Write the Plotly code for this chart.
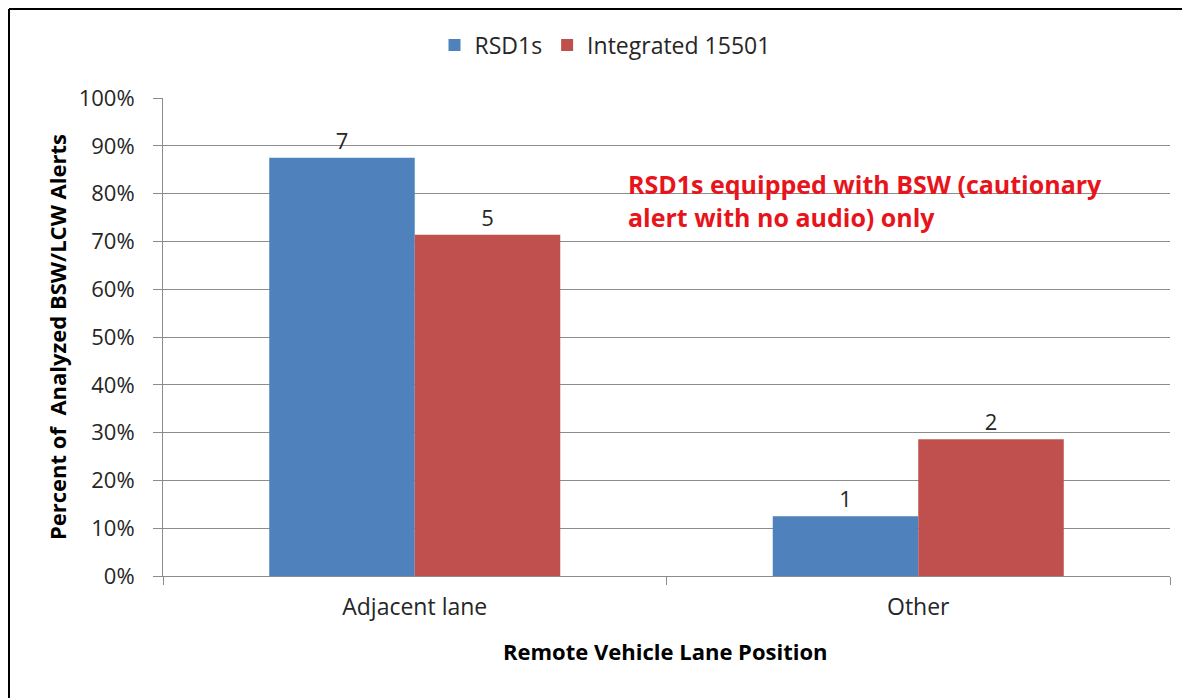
import plotly.graph_objects as go

# ── data ─────────────────────────────────────────────────────
categories = ["Adjacent lane", "Other"]
rsd1s_pct = [0.875, 0.125]          # 7 of 8, 1 of 8
rsd1s_cnt = ["7", "1"]
integ_pct = [0.714, 0.286]          # 5 of 7, 2 of 7
integ_cnt = ["5", "2"]

y_ticks = [i / 10 for i in range(11)]

COLORS = {"blue": "#4F81BD", "red": "#C0504D", "grid": "#8c8c8c", "text": "#262626"}
FONT = "Open Sans, Liberation Sans, sans-serif"

# figure sits 8px in from the page corner (body margin)
W, H = 1182, 690
ML, MT = 155, 90
PW, PH = 1007, 478
MR, MB = W - ML - PW, H - MT - PH


def px(X):   # page x -> paper x
    return (X - 8 - ML) / PW


def py(Y):   # page y -> paper y
    return 1 - (Y - 8 - MT) / PH


fig = go.Figure()
fig.add_trace(go.Bar(
    x=categories, y=rsd1s_pct, name="RSD1s",
    marker=dict(color=COLORS["blue"], line=dict(width=0)),
    text=rsd1s_cnt, textposition="outside", cliponaxis=False,
    textfont=dict(size=22, color=COLORS["text"], family=FONT),
))
fig.add_trace(go.Bar(
    x=categories, y=integ_pct, name="Integrated 15501",
    marker=dict(color=COLORS["red"], line=dict(width=0)),
    text=integ_cnt, textposition="outside", cliponaxis=False,
    textfont=dict(size=22, color=COLORS["text"], family=FONT),
))

fig.add_annotation(
    text="RSD1s equipped with BSW (cautionary<br>alert with no audio) only",
    xref="paper", yref="paper", x=px(626), y=py(165),
    xanchor="left", yanchor="top", align="left", showarrow=False,
    font=dict(size=25, color="#e8141c", family=FONT, weight="bold"),
)

# axis titles placed as annotations for exact position
fig.add_annotation(
    text="Percent of  Analyzed BSW/LCW Alerts",
    xref="paper", yref="paper", x=px(57), y=py(337),
    xanchor="center", yanchor="middle", textangle=-90, showarrow=False,
    font=dict(size=22, color="black", family=FONT, weight="bold"),
)
fig.add_annotation(
    text="Remote Vehicle Lane Position",
    xref="paper", yref="paper", x=px(665), y=py(651),
    xanchor="center", yanchor="middle", showarrow=False,
    font=dict(size=22, color="black", family=FONT, weight="bold"),
)

# frame lines visible on left and top of the picture
fig.add_shape(type="line", xref="paper", yref="paper",
              x0=px(9), x1=px(9), y0=py(9), y1=py(H + 8),
              line=dict(color="black", width=2))
fig.add_shape(type="line", xref="paper", yref="paper",
              x0=px(9), x1=px(W + 8), y0=py(9), y1=py(9),
              line=dict(color="black", width=2))

fig.update_layout(
    width=W, height=H,
    paper_bgcolor="white", plot_bgcolor="white",
    margin=dict(l=ML, r=MR, t=MT, b=MB),
    font=dict(family=FONT, color=COLORS["text"], size=20),
    barmode="group", bargap=0.422, bargroupgap=0,
    showlegend=True,
    legend=dict(orientation="h", x=px(605), xanchor="center",
                y=py(45), yanchor="middle",
                font=dict(size=23, color=COLORS["text"]),
                itemwidth=30, traceorder="normal"),
    xaxis=dict(
        showline=True, linecolor=COLORS["grid"], linewidth=1,
        ticks="outside", tickson="boundaries", ticklen=8, tickcolor=COLORS["grid"],
        tickfont=dict(size=23, color=COLORS["text"]),
        ticklabelstandoff=10,
    ),
    yaxis=dict(
        range=[0, 1], tickvals=y_ticks, tickformat=".0%",
        showgrid=True, gridcolor=COLORS["grid"], gridwidth=1,
        showline=True, linecolor=COLORS["grid"], linewidth=1,
        ticks="outside", ticklen=9, tickcolor=COLORS["grid"],
        tickfont=dict(size=22, color=COLORS["text"]),
        ticklabelstandoff=14,
        zeroline=False,
    ),
)

fig.write_html("out.html")
